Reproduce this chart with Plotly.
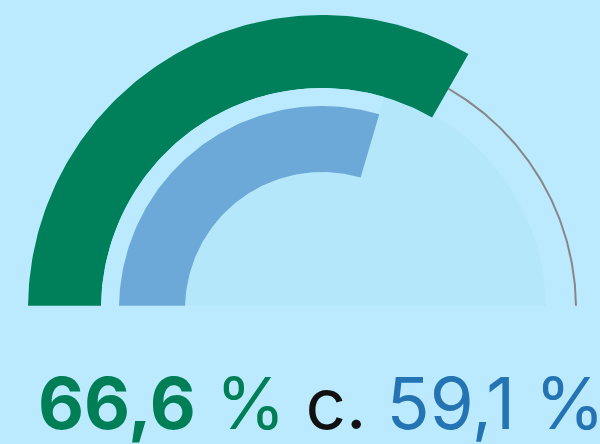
import numpy as np
import plotly.graph_objects as go

# wartości wskaźnika (w %)
labels = ["66,6", "59,1"]
values = [66.6, 59.1]
max_value = 100

bg = "#BBEAFE"
disc_color = "#B5E7FA"
green = "#00805A"
blue_arc = "#6CA9D8"
green_txt = "#007F56"
blue_txt = "#2474B4"

# geometria (promienie w pikselach, środek w (0,0))
r_green = (221, 294)
r_blue = (137, 203)
r_gap = (203, 221)
r_disc = 224
r_track = 254
base_y = 3.3  # dolna krawędź łuków (nieco nad środkiem)


def start_angle(r):
    return 180 - np.degrees(np.arcsin(base_y / r))


def band(r_in, r_out, a_end, n=120):
    to = np.radians(np.linspace(start_angle(r_out), a_end, n))
    ti = np.radians(np.linspace(a_end, start_angle(r_in), n))
    x = np.concatenate([r_out * np.cos(to), r_in * np.cos(ti)])
    y = np.concatenate([r_out * np.sin(to), r_in * np.sin(ti)])
    return np.append(x, x[0]), np.append(y, y[0])


def angle(v):
    return 180 * (1 - v / max_value)


fig = go.Figure()

# tło półkola
t = np.radians(np.linspace(start_angle(r_disc), 180 - start_angle(r_disc), 200))
fig.add_trace(go.Scatter(
    x=r_disc * np.cos(t), y=r_disc * np.sin(t),
    fill="toself", fillcolor=disc_color, line=dict(width=0), mode="lines",
    hoverinfo="skip"))

# cienka linia toru
a_g = angle(values[0])
t = np.radians(np.linspace(a_g, 180 - start_angle(r_track), 120))
fig.add_trace(go.Scatter(
    x=r_track * np.cos(t), y=r_track * np.sin(t),
    mode="lines", line=dict(color="#878787", width=2), hoverinfo="skip"))

# łuk zielony
x, y = band(*r_green, a_g)
fig.add_trace(go.Scatter(x=x, y=y, fill="toself", fillcolor=green,
                         line=dict(width=0), mode="lines", name=labels[0]))

# odstęp i łuk niebieski
a_b = angle(values[1])
x, y = band(*r_gap, a_b)
fig.add_trace(go.Scatter(x=x, y=y, fill="toself", fillcolor=bg,
                         line=dict(width=0), mode="lines", hoverinfo="skip"))
x, y = band(*r_blue, a_b)
fig.add_trace(go.Scatter(x=x, y=y, fill="toself", fillcolor=blue_arc,
                         line=dict(width=0), mode="lines", name=labels[1]))

text = (f"<span style='color:{green_txt}'><b>{labels[0]}</b> %</span> "
        f"<span style='color:#111111'>c.</span> "
        f"<span style='color:{blue_txt}'>{labels[1]} %</span>")

fig.add_annotation(
    text=text, xref="paper", yref="paper", x=0.535, y=-0.01, yanchor="bottom",
    xanchor="center", showarrow=False,
    font=dict(family="Inter", size=71, color="#111111"))

fig.update_layout(
    width=600, height=444,
    margin=dict(l=0, r=0, t=0, b=0),
    paper_bgcolor=bg, plot_bgcolor=bg,
    showlegend=False,
    xaxis=dict(range=[-322, 278], visible=False, fixedrange=True),
    yaxis=dict(range=[-135, 309], visible=False, fixedrange=True),
)

fig.write_html("out.html", config={"displayModeBar": False},
               post_script="document.body.style.margin='0px';")
